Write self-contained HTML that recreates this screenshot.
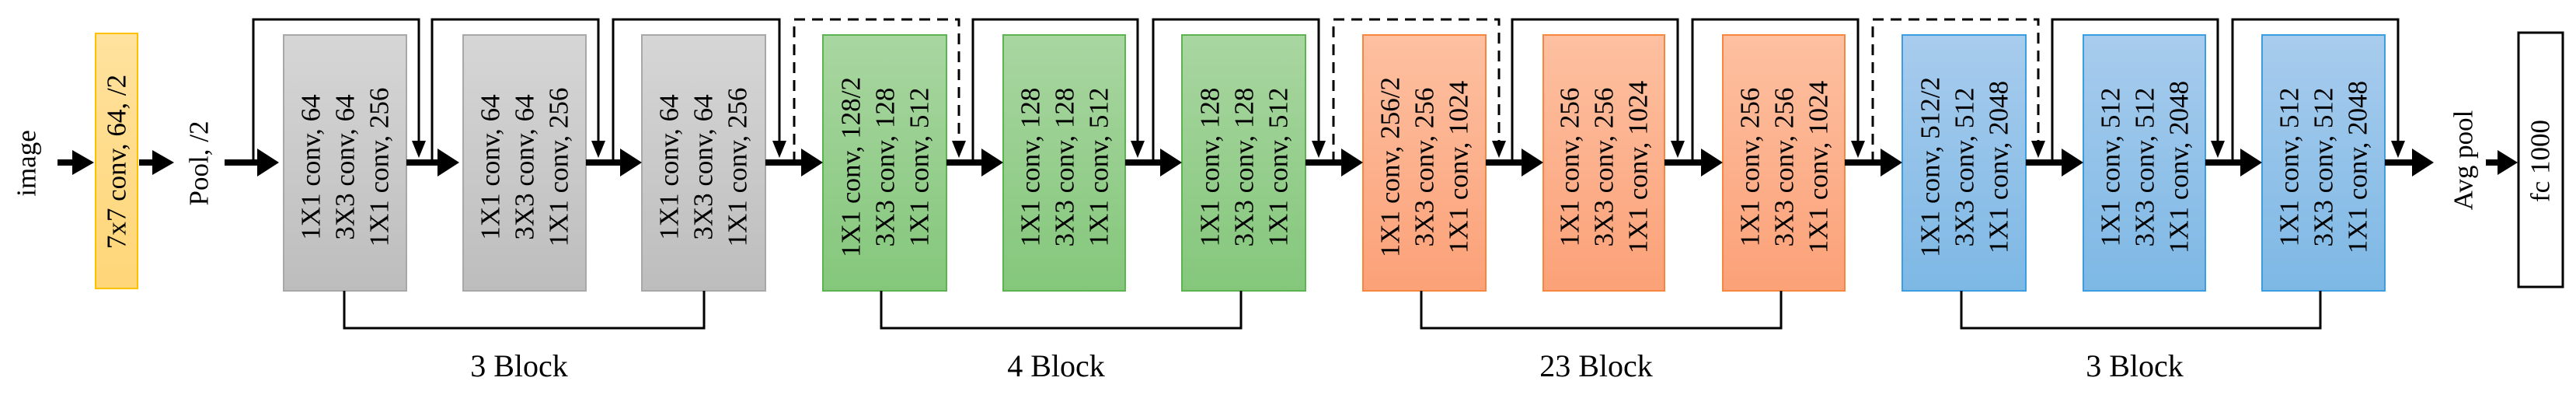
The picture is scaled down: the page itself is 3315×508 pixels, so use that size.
<!DOCTYPE html>
<html><head><meta charset="utf-8"><style>html,body{margin:0;padding:0;background:#fff}svg{display:block}</style></head>
<body>
<svg xmlns="http://www.w3.org/2000/svg" width="3315" height="508" viewBox="0 0 3315 508" font-family="Liberation Serif, serif">
<defs>
<linearGradient id="gg" x1="0" y1="0" x2="0" y2="1"><stop offset="0" stop-color="#d6d6d6"/><stop offset="1" stop-color="#bdbdbd"/></linearGradient>
<linearGradient id="gr" x1="0" y1="0" x2="0" y2="1"><stop offset="0" stop-color="#a9d6a1"/><stop offset="1" stop-color="#84c77b"/></linearGradient>
<linearGradient id="go" x1="0" y1="0" x2="0" y2="1"><stop offset="0" stop-color="#fdc0a1"/><stop offset="1" stop-color="#fca178"/></linearGradient>
<linearGradient id="gb" x1="0" y1="0" x2="0" y2="1"><stop offset="0" stop-color="#a8cced"/><stop offset="1" stop-color="#7db8e5"/></linearGradient>
<linearGradient id="gy" x1="0" y1="0" x2="0" y2="1"><stop offset="0" stop-color="#ffe29e"/><stop offset="1" stop-color="#ffd678"/></linearGradient>
</defs>

<!-- yellow conv -->
<rect x="123" y="43" width="54" height="328" fill="url(#gy)" stroke="#ffc000" stroke-width="2"/>
<text transform="translate(150,208) rotate(-90)" text-anchor="middle" dominant-baseline="central" font-size="35">7x7 conv, 64, /2</text>
<text transform="translate(34,210) rotate(-90)" text-anchor="middle" dominant-baseline="central" font-size="35">image</text>
<text transform="translate(256,210) rotate(-90)" text-anchor="middle" dominant-baseline="central" font-size="35">Pool, /2</text>
<text transform="translate(3170,206) rotate(-90)" text-anchor="middle" dominant-baseline="central" font-size="35">Avg pool</text>
<rect x="3241" y="42" width="57" height="327" fill="#fff" stroke="#000" stroke-width="3"/>
<text transform="translate(3269,207) rotate(-90)" text-anchor="middle" dominant-baseline="central" font-size="35">fc 1000</text>

<g id="boxes" font-size="35" text-anchor="middle" dominant-baseline="central">
<!-- gray -->
<rect x="365" y="45" width="158" height="329" fill="url(#gg)" stroke="#a8a8a8" stroke-width="2"/>
<rect x="596" y="45" width="158" height="329" fill="url(#gg)" stroke="#a8a8a8" stroke-width="2"/>
<rect x="826" y="45" width="159" height="329" fill="url(#gg)" stroke="#a8a8a8" stroke-width="2"/>
<!-- green -->
<rect x="1059" y="45" width="159" height="329" fill="url(#gr)" stroke="#5cb450" stroke-width="2"/>
<rect x="1291" y="45" width="157" height="329" fill="url(#gr)" stroke="#5cb450" stroke-width="2"/>
<rect x="1521" y="45" width="159" height="329" fill="url(#gr)" stroke="#5cb450" stroke-width="2"/>
<!-- orange -->
<rect x="1754" y="45" width="158" height="329" fill="url(#go)" stroke="#f7873f" stroke-width="2"/>
<rect x="1986" y="45" width="156" height="329" fill="url(#go)" stroke="#f7873f" stroke-width="2"/>
<rect x="2217" y="45" width="157" height="329" fill="url(#go)" stroke="#f7873f" stroke-width="2"/>
<!-- blue -->
<rect x="2448" y="45" width="159" height="329" fill="url(#gb)" stroke="#3a9ee0" stroke-width="2"/>
<rect x="2681" y="45" width="157" height="329" fill="url(#gb)" stroke="#3a9ee0" stroke-width="2"/>
<rect x="2911" y="45" width="158" height="329" fill="url(#gb)" stroke="#3a9ee0" stroke-width="2"/>

<g transform="translate(444,215) rotate(-90)"><text y="-44">1X1  conv, 64</text><text y="0">3X3  conv, 64</text><text y="44">1X1  conv, 256</text></g>
<g transform="translate(675,215) rotate(-90)"><text y="-44">1X1  conv, 64</text><text y="0">3X3  conv, 64</text><text y="44">1X1  conv, 256</text></g>
<g transform="translate(905,215) rotate(-90)"><text y="-44">1X1  conv, 64</text><text y="0">3X3  conv, 64</text><text y="44">1X1  conv, 256</text></g>
<g transform="translate(1139,215) rotate(-90)"><text y="-44">1X1  conv, 128/2</text><text y="0">3X3  conv, 128</text><text y="44">1X1  conv, 512</text></g>
<g transform="translate(1370,215) rotate(-90)"><text y="-44">1X1  conv, 128</text><text y="0">3X3  conv, 128</text><text y="44">1X1  conv, 512</text></g>
<g transform="translate(1601,215) rotate(-90)"><text y="-44">1X1  conv, 128</text><text y="0">3X3  conv, 128</text><text y="44">1X1  conv, 512</text></g>
<g transform="translate(1833,215) rotate(-90)"><text y="-44">1X1  conv, 256/2</text><text y="0">3X3  conv, 256</text><text y="44">1X1  conv, 1024</text></g>
<g transform="translate(2064,215) rotate(-90)"><text y="-44">1X1  conv, 256</text><text y="0">3X3  conv, 256</text><text y="44">1X1  conv, 1024</text></g>
<g transform="translate(2296,215) rotate(-90)"><text y="-44">1X1  conv, 256</text><text y="0">3X3  conv, 256</text><text y="44">1X1  conv, 1024</text></g>
<g transform="translate(2528,215) rotate(-90)"><text y="-44">1X1  conv, 512/2</text><text y="0">3X3  conv, 512</text><text y="44">1X1  conv, 2048</text></g>
<g transform="translate(2760,215) rotate(-90)"><text y="-44">1X1  conv, 512</text><text y="0">3X3  conv, 512</text><text y="44">1X1  conv, 2048</text></g>
<g transform="translate(2990,215) rotate(-90)"><text y="-44">1X1  conv, 512</text><text y="0">3X3  conv, 512</text><text y="44">1X1  conv, 2048</text></g>
</g>

<!-- thick arrows -->
<g fill="#000">
<path d="M74,205h19v-12l28,16l-28,16v-12h-19z"/>
<path d="M179,205h17v-12l28,16l-28,16v-12h-17z"/>
<path d="M289,205h42v-14l28,18l-28,18v-14h-42z"/>
<path d="M523,205h40v-14l28,18l-28,18v-14h-40z"/>
<path d="M754,205h44v-14l28,18l-28,18v-14h-44z"/>
<path d="M985,205h46v-14l28,18l-28,18v-14h-46z"/>
<path d="M1218,205h45v-14l28,18l-28,18v-14h-45z"/>
<path d="M1448,205h45v-14l28,18l-28,18v-14h-45z"/>
<path d="M1680,205h46v-14l28,18l-28,18v-14h-46z"/>
<path d="M1912,205h46v-14l28,18l-28,18v-14h-46z"/>
<path d="M2142,205h47v-14l28,18l-28,18v-14h-47z"/>
<path d="M2374,205h46v-14l28,18l-28,18v-14h-46z"/>
<path d="M2607,205h46v-14l28,18l-28,18v-14h-46z"/>
<path d="M2838,205h45v-14l28,18l-28,18v-14h-45z"/>
<path d="M3069,205h35v-14l28,18l-28,18v-14h-35z"/>
<path d="M3199,205h15v-12l26,16l-26,16v-12h-15z"/>
</g>

<!-- skip connections -->
<g fill="none" stroke="#000" stroke-width="3">
<path d="M326,209V25H539V185"/>
<path d="M556,209V25H770V185"/>
<path d="M789,209V25H1003V185"/>
<path d="M1022,209V25H1234V185" stroke-dasharray="14,9"/>
<path d="M1252,209V25H1464V185"/>
<path d="M1484,209V25H1697V185"/>
<path d="M1716,209V25H1929V185" stroke-dasharray="14,9"/>
<path d="M1946,209V25H2159V185"/>
<path d="M2178,209V25H2391V185"/>
<path d="M2410,209V25H2623V185" stroke-dasharray="14,9"/>
<path d="M2641,209V25H2854V185"/>
<path d="M2873,209V25H3086V185"/>
<!-- brackets -->
<path d="M443,374V422H906V374"/>
<path d="M1134,374V422H1597V374"/>
<path d="M1829,374V422H2292V374"/>
<path d="M2524,374V422H2986V374"/>
</g>
<g fill="#000">
<path d="M530,181h18l-9,22z"/>
<path d="M761,181h18l-9,22z"/>
<path d="M994,181h18l-9,22z"/>
<path d="M1225,181h18l-9,22z"/>
<path d="M1455,181h18l-9,22z"/>
<path d="M1688,181h18l-9,22z"/>
<path d="M1920,181h18l-9,22z"/>
<path d="M2150,181h18l-9,22z"/>
<path d="M2382,181h18l-9,22z"/>
<path d="M2614,181h18l-9,22z"/>
<path d="M2845,181h18l-9,22z"/>
<path d="M3077,181h18l-9,22z"/>
</g>

<g font-size="40" text-anchor="middle">
<text x="668" y="484">3 Block</text>
<text x="1359" y="484">4 Block</text>
<text x="2054" y="484">23 Block</text>
<text x="2747" y="484">3 Block</text>
</g>
</svg>
</body></html>
